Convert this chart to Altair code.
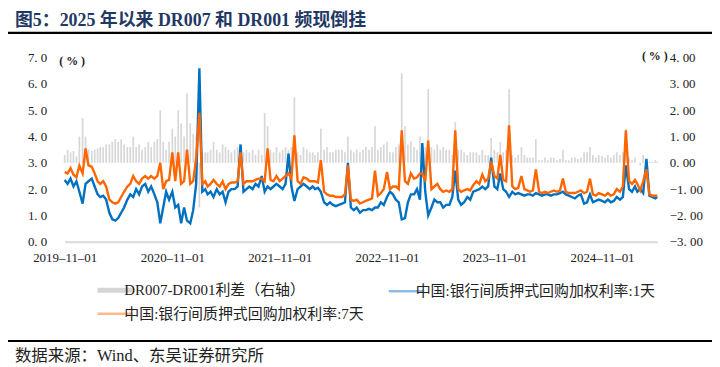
import altair as alt
import pandas as pd

# ---------------- data (3 points per month) ----------------
# months Nov-2019 .. Apr-2025 (early / mid / late), then May-2025 (2 points)
r001 = [
    2.35, 2.2, 2.4,   2.1, 2.3, 1.9,
    1.45, 2.2, 2.3,   2.4, 2.1, 1.8,   1.7, 1.75, 1.6,   1.1, 0.85, 0.8,
    0.9, 1.1, 1.3,    1.6, 1.8, 1.7,   2.0, 1.8, 2.1,    2.2, 1.9, 2.1,
    1.8, 1.5, 0.7,    1.3, 1.9, 1.6,   1.9, 1.3, 1.4,    0.7, 1.3, 0.8,
    0.7, 1.2, 2.2,    6.6, 1.9, 2.0,   1.8, 1.9, 1.7,    2.0, 1.8, 1.9,
    1.5, 1.9, 2.0,    2.0, 2.1, 3.7,   1.9, 2.0, 2.1,    2.0, 2.2, 2.1,
    2.5, 1.9, 2.1,    2.0, 2.1, 2.2,   2.1, 2.0, 2.2,    3.35, 2.1, 1.55,
    2.0, 2.1, 2.2,    2.1, 2.0, 2.1,   2.0, 2.05, 1.9,   1.5, 1.4, 1.5,
    1.4, 1.35, 1.4,   1.45, 1.5, 3.0,  1.3, 1.2, 1.3,    1.1, 1.2, 1.2,
    1.25, 1.2, 1.3,   1.3, 1.5, 1.4,   1.7, 1.9, 1.8,    1.6, 1.5, 0.85,
    0.9, 1.5, 1.8,    1.8, 2.0, 1.6,   3.75, 1.9, 1.0,   1.3, 1.6, 1.5,
    1.5, 1.3, 1.4,    1.4, 1.7, 2.7,   1.6, 1.4, 1.5,    1.7, 1.6, 1.9,
    1.95, 2.0, 2.1,   2.0, 2.1, 3.2,   2.1, 2.0, 2.6,    2.0, 1.9, 1.7,
    1.9, 1.8, 1.85,   1.8, 1.75, 1.8,  1.8, 1.75, 1.85,  1.8, 1.75, 1.8,
    1.8, 1.75, 1.8,   1.8, 1.85, 1.9,  1.8, 1.75, 1.7,   1.65, 1.75, 1.8,
    1.45, 1.5, 1.8,   1.5, 1.55, 1.6,  1.55, 1.5, 1.6,   1.5, 1.55, 1.7,
    1.6, 1.7, 2.9,    2.0, 1.9, 2.1,   1.9, 2.0, 1.85,   3.15, 1.75, 1.7,
    1.65, 1.7,
]
r007 = [
    2.65, 2.6, 2.8,   2.55, 2.45, 2.9,
    2.6, 3.55, 2.9,   2.85, 2.6, 2.3,  2.2, 2.3, 2.1,    1.6, 1.5, 1.45,
    1.5, 1.7, 1.9,    2.1, 2.2, 2.5,   2.3, 2.2, 2.4,    2.5, 2.4, 2.5,
    2.4, 2.5, 3.0,    2.0, 2.3, 2.35,  3.4, 2.3, 3.4,    2.2, 2.3, 3.5,
    2.2, 2.3, 3.2,    4.9, 2.2, 2.3,   2.1, 2.2, 2.35,   2.2, 2.1, 2.3,
    2.0, 2.2, 2.25,   2.25, 2.3, 3.4,  2.2, 2.3, 2.3,    2.3, 2.35, 2.4,
    2.4, 2.3, 3.55,   2.35, 2.3, 2.5,  2.3, 2.4, 2.5,    2.6, 2.4, 4.05,
    2.3, 2.2, 2.45,   2.4, 2.3, 2.3,   2.3, 2.25, 3.1,   1.9, 1.8, 1.75,
    1.75, 1.7, 1.7,   1.7, 1.8, 2.9,   1.6, 1.55, 1.6,   1.45, 1.5, 1.55,
    1.6, 1.65, 2.7,   1.75, 1.85, 2.0, 2.65, 2.0, 2.1,   2.1, 2.0, 4.24,
    2.3, 2.2, 2.6,    2.4, 2.45, 2.6,  2.6, 2.3, 3.85,   2.0, 2.1, 2.2,
    2.0, 1.9, 1.95,   1.9, 2.0, 4.24,  2.0, 1.9, 1.95,   2.0, 1.95, 2.15,
    2.3, 2.2, 2.55,   2.3, 2.4, 3.05,  2.5, 2.4, 3.3,    2.35, 2.3, 4.43,
    2.1, 2.0, 2.05,   2.5, 2.0, 1.95,  1.9, 1.95, 2.75,  1.9, 1.85, 1.9,
    1.85, 1.9, 1.95,  1.9, 1.95, 2.4,  1.9, 1.85, 1.85,  1.85, 1.9, 1.95,
    1.85, 1.9, 2.4,   1.8, 1.75, 1.85, 1.8, 1.75, 1.85,  1.75, 1.8, 2.0,
    1.9, 2.1, 4.24,   2.3, 2.2, 2.35,  2.2, 1.95, 2.3,   2.75, 1.8, 1.75,
    1.75, 1.75,
]
spread = [
    0.3, 0.5, 0.4,    0.45, 0.25, 1.0,
    1.7, 1.0, 0.5,    0.45, 0.5, 0.55, 0.6, 0.6, 0.7,    0.7, 0.8, 0.9,
    0.8, 0.9, 0.7,    0.6, 0.6, 1.0,   0.6, 0.7, 0.5,    0.6, 0.8, 0.6,
    0.8, 0.9, 2.0,    0.8, 0.5, 0.8,   1.3, 1.0, 2.0,    1.5, 1.0, 2.65,
    1.5, 1.1, 1.0,    -1.7, 0.4, 0.4,  0.4, 0.5, 0.8,    0.5, 0.4, 0.7,
    0.6, 0.5, 0.4,    0.5, 0.6, 0.2,   0.4, 0.5, 0.4,    0.5, 0.3, 0.5,
    0.3, 1.9, 1.4,    0.5, 0.4, 0.6,   0.4, 0.5, 0.6,    0.5, 0.6, 2.5,
    0.4, 0.3, 0.6,    0.5, 0.4, 0.4,   0.3, 0.4, 1.3,    0.5, 0.6, 0.4,
    0.4, 0.5, 0.5,    0.5, 0.4, 1.0,   0.5, 0.4, 0.5,    0.4, 0.5, 0.6,
    0.5, 0.6, 1.4,    0.5, 0.6, 0.7,   0.8, 0.4, 0.4,    0.6, 0.7, 3.4,
    1.4, 0.7, 0.8,    0.6, 0.5, 1.0,   0.5, 0.6, 2.8,    0.6, 0.5, 0.7,
    0.5, 0.6, 0.5,    0.5, 0.3, 1.55,  0.5, 0.5, 0.4,    0.3, 0.4, 0.4,
    0.4, 0.3, 0.5,    0.3, 0.3, 0.95,  0.5, 0.4, 0.8,    0.4, 0.5, 2.8,
    0.3, 0.2, 0.3,    0.6, 0.3, 0.2,   0.2, 0.2, 0.9,    0.1, 0.1, 0.2,
    0.1, 0.2, 0.2,    0.1, 0.15, 0.5,  0.1, 0.1, 0.2,    0.2, 0.15, 0.2,
    0.4, 0.4, 0.6,    0.3, 0.2, 0.3,   0.25, 0.2, 0.3,   0.2, 0.3, 0.4,
    0.3, 0.4, 1.3,    0.2, 0.1, 0.2,   0.0, -0.1, 0.3,   -0.4, 0.05, 0.05,
    0.1, 0.05,
]

months = pd.date_range("2019-11-01", "2025-04-01", freq="MS")
dates = [m + pd.Timedelta(days=d) for m in months for d in (0, 10, 20)]
dates += [pd.Timestamp("2025-05-01"), pd.Timestamp("2025-05-08")]
dates = [d.strftime("%Y-%m-%d") for d in dates]

L_SP = "DR007-DR001利差（右轴）"
L_1D = "中国:银行间质押式回购加权利率:1天"
L_7D = "中国:银行间质押式回购加权利率:7天"

d_sp = pd.DataFrame({"date": dates, "v": spread, "s": L_SP})
d_1d = pd.DataFrame({"date": dates, "v": r001, "s": L_1D})
d_7d = pd.DataFrame({"date": dates, "v": r007, "s": L_7D})

x_ticks = ["2019-11-01", "2020-11-01", "2021-11-01", "2022-11-01", "2023-11-01", "2024-11-01"]

TITLE = "图5：2025 年以来 DR007 和 DR001 频现倒挂"
SOURCE = "数据来源：Wind、东吴证券研究所"

# ---------------- styling ----------------
FONT = "Liberation Serif, Noto Sans CJK SC"
TXT = "#222222"

def dt(s):
    y, m, d = (int(p) for p in s.split("-"))
    return alt.DateTime(year=y, month=m, date=d)

x_enc = alt.X(
    "date:T",
    scale=alt.Scale(domain=[dt("2019-11-01"), dt("2025-05-08")]),
    axis=alt.Axis(values=[dt(t) for t in x_ticks], format="%Y–%m–%d", title=None,
                  ticks=False, grid=False, domainColor="#D9D9D9", domainWidth=2,
                  labelFont=FONT, labelFontSize=13, labelColor=TXT, labelPadding=10,
                  labelOverlap=False, labelFlush=False),
)

color = alt.Color(
    "s:N",
    scale=alt.Scale(domain=[L_SP, L_1D, L_7D], range=["#A6A6A6", "#0070C0", "#FF6600"]),
    legend=alt.Legend(
        title=None, orient="none", legendX=43, legendY=226, direction="horizontal",
        columns=2, gridAlign="each", symbolType="stroke", symbolSize=1225,
        symbolStrokeWidth=alt.ExprRef(f"datum.value == '{L_SP}' ? 5 : 2.5"),
        labelFont=FONT, labelFontSize=15, labelColor=TXT, labelOffset=2,
        labelLimit=400, columnPadding=20, rowPadding=6,
    ),
)

bars = alt.Chart(d_sp).mark_rule(strokeWidth=1.7, opacity=0.45).encode(
    x=x_enc,
    y=alt.Y("v:Q", scale=alt.Scale(domain=[-3, 4], nice=False, zero=False),
            axis=alt.Axis(orient="right", values=list(range(-3, 5)),
                          labelExpr="replace(format(datum.value, '.2f'), '.', '. ')",
                          ticks=False, domain=False, grid=False,
                          labelFont=FONT, labelFontSize=13, labelColor=TXT, labelPadding=12,
                          title="( % )", titleAngle=0, titleX=-16, titleY=-2,
                          titleAlign="left", titleBaseline="middle",
                          titleFont=FONT, titleFontSize=12, titleFontWeight="bold", titleColor=TXT)),
    y2=alt.datum(0),
    color=color,
)

left_axis = alt.Axis(orient="left", values=list(range(0, 8)),
                     labelExpr="replace(format(datum.value, '.1f'), '.', '. ')",
                     ticks=False, domain=False, grid=False,
                     labelFont=FONT, labelFontSize=13, labelColor=TXT, labelPadding=18,
                     title="( % )", titleAngle=0, titleX=-6, titleY=3,
                     titleAlign="left", titleBaseline="middle",
                     titleFont=FONT, titleFontSize=12, titleFontWeight="bold", titleColor=TXT)

line1 = alt.Chart(d_1d).mark_line(strokeWidth=2.4).encode(
    x=x_enc,
    y=alt.Y("v:Q", scale=alt.Scale(domain=[0, 7], nice=False, zero=False), axis=left_axis),
    color=color,
)
line7 = alt.Chart(d_7d).mark_line(strokeWidth=2.4).encode(
    x=x_enc,
    y=alt.Y("v:Q", scale=alt.Scale(domain=[0, 7], nice=False, zero=False), axis=None),
    color=color,
)

one = pd.DataFrame({"k": [0]})
top_rule = alt.Chart(one).mark_rule(color="#000000", strokeWidth=2.5).encode(
    x=alt.value(-61), x2=alt.value(651), y=alt.value(-25))
bot_rule = alt.Chart(one).mark_rule(color="#000000", strokeWidth=2).encode(
    x=alt.value(-61), x2=alt.value(651), y=alt.value(285))
source = alt.Chart(one).mark_text(text=SOURCE, align="left", baseline="middle",
                                  font=FONT, fontSize=16.5, color=TXT).encode(
    x=alt.value(-50), y=alt.value(300))

chart = alt.layer(bars, line1, line7, top_rule, bot_rule, source).resolve_scale(
    y="independent"
).properties(
    width=596, height=185,
    autosize=alt.AutoSizeParams(type="none"),
    padding={"left": 57, "top": 49, "right": 55, "bottom": 122},
    title=alt.TitleParams(TITLE, anchor="start", font=FONT, fontSize=18, fontWeight="bold",
                          color="#1F3864", dx=-50, offset=2, frame="group"),
).configure_view(stroke=None)

chart.save("out.html", embed_options={"renderer": "svg", "actions": False})
